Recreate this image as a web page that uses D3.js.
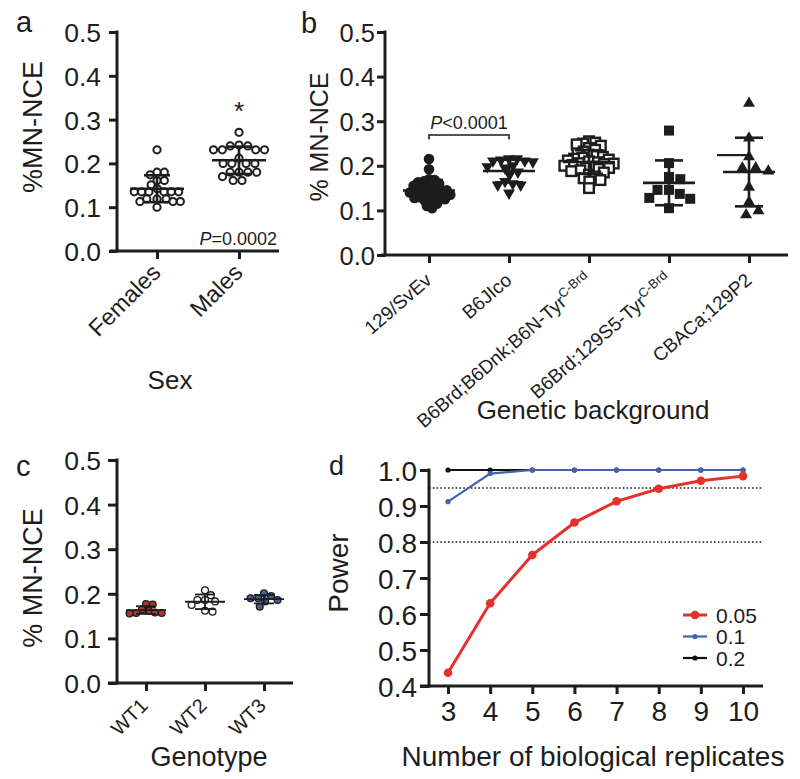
<!DOCTYPE html>
<html><head><meta charset="utf-8">
<script src="https://cdn.jsdelivr.net/npm/d3@7"></script>
<style>
body{margin:0;background:#fff}
text{font-family:"Liberation Sans",Arial,Helvetica,sans-serif;fill:#1e1c1d}
</style>
</head><body>
<svg id="fig" width="800" height="779"></svg>
<script>
// ---------------- DATA ----------------
// Panel a
const sexCategories = ["Females", "Males"];
const femalesMN = [0.231, 0.180, 0.180, 0.174, 0.161, 0.161, 0.151, 0.142, 0.135, 0.135, 0.135, 0.135, 0.135, 0.135, 0.119, 0.119, 0.119, 0.113, 0.113, 0.113, 0.100];
const malesMN = [0.271, 0.242, 0.240, 0.240, 0.231, 0.231, 0.231, 0.231, 0.212, 0.200, 0.200, 0.200, 0.200, 0.180, 0.180, 0.180, 0.180, 0.170, 0.161, 0.161];
const mnTicks = [0, 0.1, 0.2, 0.3, 0.4, 0.5];
const sexPText = "=0.0002";

// Panel b
const bgCategories = ["129/SvEv", "B6JIco", "B6Brd;B6Dnk;B6N-Tyr", "B6Brd;129S5-Tyr", "CBACa;129P2"];
const bgSuperscripts = ["", "", "C-Brd", "C-Brd", ""];
const sv129MN = [0.215, 0.192, 0.170, 0.168, 0.165, 0.163, 0.160, 0.158, 0.155, 0.152, 0.150, 0.148, 0.146, 0.145, 0.143, 0.142, 0.140, 0.138, 0.136, 0.135, 0.133, 0.131, 0.130, 0.128, 0.125, 0.122, 0.118, 0.115, 0.110, 0.105];
const b6jicoMN = [0.216, 0.216, 0.213, 0.211, 0.211, 0.209, 0.200, 0.198, 0.195, 0.186, 0.180, 0.165, 0.160, 0.157, 0.157, 0.139];
const b6dnkMN = [0.255, 0.252, 0.250, 0.248, 0.245, 0.240, 0.236, 0.232, 0.228, 0.225, 0.222, 0.220, 0.218, 0.216, 0.214, 0.212, 0.210, 0.208, 0.206, 0.205, 0.204, 0.202, 0.200, 0.198, 0.196, 0.195, 0.193, 0.190, 0.188, 0.185, 0.180, 0.176, 0.172, 0.168, 0.165, 0.150];
const b6129s5MN = [0.279, 0.206, 0.175, 0.170, 0.146, 0.146, 0.137, 0.128, 0.126, 0.105];
const cbaMN = [0.340, 0.262, 0.220, 0.195, 0.195, 0.188, 0.152, 0.119, 0.090, 0.099];
const cbaExtraLine = 0.224;
const bgPText = "<0.0001";

// Panel c
const genoCategories = ["WT1", "WT2", "WT3"];
const wt1MN = [0.177, 0.176, 0.165, 0.162, 0.158, 0.157, 0.157, 0.156];
const wt2MN = [0.208, 0.197, 0.186, 0.183, 0.186, 0.175, 0.160, 0.162];
const wt3MN = [0.201, 0.195, 0.190, 0.190, 0.186, 0.183, 0.171];
const genoColors = ["#a8392b", "#ffffff", "#40619e"];

// Panel d
const replicates = [3, 4, 5, 6, 7, 8, 9, 10];
const power005 = [0.437, 0.630, 0.764, 0.854, 0.913, 0.948, 0.970, 0.983];
const power01 = [0.912, 0.990, 1, 1, 1, 1, 1, 1];
const power02 = [1, 1, 1, 1, 1, 1, 1, 1];
const powerSeriesNames = ["0.05", "0.1", "0.2"];
const powerColors = ["#e5312b", "#4164ad", "#111111"];
const powerThresholds = [0.95, 0.8];
const powerTicks = [0.4, 0.5, 0.6, 0.7, 0.8, 0.9, 1.0];

// ---------------- HELPERS ----------------
const svg = d3.select("#fig");
const INK = "#1e1c1d";

function beeswarm(vals, yS, d) {
  const pts = vals.map(v => ({v, y: yS(v)})).sort((a, b) => a.y - b.y);
  const placed = [];
  for (const p of pts) {
    const near = placed.filter(q => Math.abs(q.y - p.y) < d);
    const cands = [0];
    near.forEach(q => { const h = Math.sqrt(d * d - (q.y - p.y) ** 2); cands.push(q.dx + h, q.dx - h); });
    cands.sort((a, b) => Math.abs(a) - Math.abs(b) || b - a);
    let chosen = cands[0];
    for (const c of cands) {
      if (near.every(q => (q.dx - c) ** 2 + (q.y - p.y) ** 2 >= d * d - 1e-6)) { chosen = c; break; }
    }
    p.dx = chosen; placed.push(p);
  }
  return placed;
}
function swarm(vals, yS, cx, d0, maxHalf) {
  let d = d0, res;
  for (let i = 0; i < 40; i++) {
    res = beeswarm(vals, yS, d);
    if (d3.max(res, p => Math.abs(p.dx)) <= maxHalf + 0.01) break;
    d *= 0.94;
  }
  return res.map(p => ({v: p.v, x: cx + p.dx, y: p.y}));
}

function yAxis(g, y, x0, ticks, fmt, fs, tickLen, pad) {
  const ax = d3.axisLeft(y).tickValues(ticks).tickFormat(d3.format(fmt)).tickSize(tickLen).tickPadding(pad);
  const gg = g.append("g").attr("transform", `translate(${x0},0)`).call(ax);
  gg.select(".domain").remove();
  gg.selectAll(".tick line").attr("stroke", INK).attr("stroke-width", 3);
  gg.selectAll(".tick text").attr("font-size", fs).attr("fill", INK).attr("dy", "0.36em");
  g.append("line").attr("x1", x0).attr("x2", x0)
    .attr("y1", y(ticks[ticks.length - 1]) - 1.5).attr("y2", y(ticks[0]) + 1.5)
    .attr("stroke", INK).attr("stroke-width", 3);
}
function xAxis(g, x, y0, xStart, xEnd, tickLen) {
  const ax = d3.axisBottom(x).tickSize(tickLen).tickFormat("");
  const gg = g.append("g").attr("transform", `translate(0,${y0})`).call(ax);
  gg.select(".domain").remove();
  gg.selectAll(".tick line").attr("stroke", INK).attr("stroke-width", 3);
  g.append("line").attr("x1", xStart).attr("x2", xEnd).attr("y1", y0).attr("y2", y0)
    .attr("stroke", INK).attr("stroke-width", 3);
  return gg;
}
function errBar(g, vals, cx, y, meanW, capW, sw) {
  const m = d3.mean(vals), s = d3.deviation(vals);
  const st = l => l.attr("stroke", INK).attr("stroke-width", sw);
  st(g.append("line").attr("x1", cx).attr("x2", cx).attr("y1", y(m + s)).attr("y2", y(m - s)));
  [m + s, m - s].forEach(v => st(g.append("line").attr("x1", cx - capW / 2).attr("x2", cx + capW / 2).attr("y1", y(v)).attr("y2", y(v))));
  st(g.append("line").attr("x1", cx - meanW / 2).attr("x2", cx + meanW / 2).attr("y1", y(m)).attr("y2", y(m)));
}
function rotLabel(g, x, y, angle, txt, sup, fs) {
  const t = g.append("text").attr("transform", `translate(${x},${y}) rotate(${angle})`)
    .attr("text-anchor", "end").attr("font-size", fs);
  t.append("tspan").text(txt);
  if (sup) t.append("tspan").attr("font-size", fs * 0.68).attr("dy", -fs * 0.38).text(sup);
  return t;
}
function yTitle(g, x, y, txt, fs) {
  g.append("text").attr("transform", `translate(${x},${y}) rotate(-90)`).attr("text-anchor", "middle")
    .attr("font-size", fs).text(txt);
}

// ---------------- PANEL a ----------------
{
  const g = svg.append("g");
  const y = d3.scaleLinear().domain([0, 0.5]).range([251, 32]);
  const x = d3.scalePoint().domain(sexCategories).range([157, 239]);
  const groups = [femalesMN, malesMN];
  groups.forEach((vals, i) => {
    const pts = swarm(vals, y, x(sexCategories[i]), 10, 26);
    g.selectAll(null).data(pts).join("circle").attr("cx", p => p.x).attr("cy", p => p.y).attr("r", 3.6)
      .attr("fill", "#fff").attr("stroke", INK).attr("stroke-width", 2);
  });
  groups.forEach((vals, i) => errBar(g, vals, x(sexCategories[i]), y, 54, 26, 2.6));
  yAxis(g, y, 117, mnTicks, ".1f", 26.5, 8, 8);
  xAxis(g, x, 251, 110, 279, 8);
  sexCategories.forEach(c => rotLabel(g, x(c) + 5, 274, -45, c, "", 23.5));
  g.append("text").attr("x", 170).attr("y", 389).attr("text-anchor", "middle").attr("font-size", 26).text("Sex");
  yTitle(g, 42, 127, "%MN-NCE", 27);
  g.append("text").attr("x", 239).attr("y", 120).attr("text-anchor", "middle").attr("font-size", 26).text("*");
  const pt = g.append("text").attr("x", 277).attr("y", 245).attr("text-anchor", "end").attr("font-size", 18);
  pt.append("tspan").attr("font-style", "italic").text("P");
  pt.append("tspan").text(sexPText);
  g.append("text").attr("x", 16).attr("y", 32).attr("font-size", 29).text("a");
}

// ---------------- PANEL b ----------------
{
  const g = svg.append("g");
  const y = d3.scaleLinear().domain([0, 0.5]).range([255, 32]);
  const x = d3.scalePoint().domain(bgCategories).range([429, 749]);
  const groups = [sv129MN, b6jicoMN, b6dnkMN, b6129s5MN, cbaMN];
  const tri = d3.symbol().type(d3.symbolTriangle).size(62)();
  const markers = [
    (sel) => sel.append("circle").attr("r", 5.3).attr("fill", INK),
    (sel) => sel.append("path").attr("d", tri).attr("transform", "rotate(180)").attr("fill", INK),
    (sel) => sel.append("rect").attr("x", -4.8).attr("y", -4.8).attr("width", 9.6).attr("height", 9.6)
      .attr("fill", "#fff").attr("stroke", INK).attr("stroke-width", 2.4),
    (sel) => sel.append("rect").attr("x", -5).attr("y", -5).attr("width", 10).attr("height", 10).attr("fill", INK),
    (sel) => sel.append("path").attr("d", tri).attr("fill", INK)
  ];
  const dGap = [10, 11, 10.5, 11.5, 13];
  groups.forEach((vals, i) => {
    const pts = swarm(vals, y, x(bgCategories[i]), dGap[i], 25);
    const mk = g.selectAll(null).data(pts).join("g").attr("transform", p => `translate(${p.x},${p.y})`);
    markers[i](mk);
  });
  groups.forEach((vals, i) => errBar(g, vals, x(bgCategories[i]), y, 52, 28, 2.6));
  // stray mean-like line drawn in the CBA group
  g.append("line").attr("x1", x(bgCategories[4]) - 32).attr("x2", x(bgCategories[4])).attr("y1", y(cbaExtraLine)).attr("y2", y(cbaExtraLine))
    .attr("stroke", INK).attr("stroke-width", 2.2);
  yAxis(g, y, 385, mnTicks, ".1f", 25.5, 8, 2);
  xAxis(g, x, 255, 381, 788, 8);
  bgCategories.forEach((c, i) => rotLabel(g, x(c) + 4, 282, -41, c, bgSuperscripts[i], 19));
  g.append("text").attr("x", 593).attr("y", 419).attr("text-anchor", "middle").attr("font-size", 26).text("Genetic background");
  yTitle(g, 328, 137, "% MN-NCE", 25);
  // significance bracket
  const xa = x(bgCategories[0]), xb = x(bgCategories[1]);
  g.append("path").attr("d", `M${xa},139.5V135H${xb}V139.5`).attr("fill", "none").attr("stroke", INK).attr("stroke-width", 1.6);
  const pt = g.append("text").attr("x", (xa + xb) / 2).attr("y", 129).attr("text-anchor", "middle").attr("font-size", 18);
  pt.append("tspan").attr("font-style", "italic").text("P");
  pt.append("tspan").text(bgPText);
  g.append("text").attr("x", 301).attr("y", 33).attr("font-size", 29).text("b");
}

// ---------------- PANEL c ----------------
{
  const g = svg.append("g");
  const y = d3.scaleLinear().domain([0, 0.5]).range([683, 460]);
  const x = d3.scalePoint().domain(genoCategories).range([146, 264]);
  const groups = [wt1MN, wt2MN, wt3MN];
  groups.forEach((vals, i) => {
    const pts = swarm(vals, y, x(genoCategories[i]), 7.6, 17);
    g.selectAll(null).data(pts).join("circle").attr("cx", p => p.x).attr("cy", p => p.y).attr("r", 3.4)
      .attr("fill", genoColors[i]).attr("stroke", INK).attr("stroke-width", 1.3);
  });
  groups.forEach((vals, i) => errBar(g, vals, x(genoCategories[i]), y, 40, 20, 1.8));
  yAxis(g, y, 117, mnTicks, ".1f", 26.5, 9, 7);
  xAxis(g, x, 683, 108, 293, 8);
  genoCategories.forEach(c => rotLabel(g, x(c) + 3, 707, -45, c, "", 20));
  g.append("text").attr("x", 209).attr("y", 766).attr("text-anchor", "middle").attr("font-size", 27).text("Genotype");
  yTitle(g, 42, 578, "% MN-NCE", 27);
  g.append("text").attr("x", 16).attr("y", 476).attr("font-size", 29).text("c");
}

// ---------------- PANEL d ----------------
{
  const g = svg.append("g");
  const y = d3.scaleLinear().domain([0.4, 1.0]).range([686, 470]);
  const x = d3.scaleLinear().domain([3, 10]).range([448, 743]);
  powerThresholds.forEach(t => g.append("line").attr("x1", 429).attr("x2", 763).attr("y1", y(t)).attr("y2", y(t))
    .attr("stroke", INK).attr("stroke-width", 1.5).attr("stroke-dasharray", "1.6,2.2"));
  const series = [power02, power01, power005];
  const colors = [powerColors[2], powerColors[1], powerColors[0]];
  const widths = [2.2, 2.2, 3];
  const radii = [2.6, 2.6, 4.3];
  const line = d3.line().x((d, i) => x(replicates[i])).y(d => y(d));
  series.forEach((s, k) => {
    g.append("path").attr("d", line(s)).attr("fill", "none").attr("stroke", colors[k]).attr("stroke-width", widths[k]);
    g.selectAll(null).data(s).join("circle").attr("cx", (d, i) => x(replicates[i])).attr("cy", d => y(d))
      .attr("r", radii[k]).attr("fill", colors[k]);
  });
  const ya = d3.axisLeft(y).tickValues(powerTicks).tickFormat(d3.format(".1f")).tickSize(9).tickPadding(3);
  const gy = g.append("g").attr("transform", "translate(429,0)").call(ya);
  gy.select(".domain").remove();
  gy.selectAll(".tick line").attr("stroke", INK).attr("stroke-width", 3);
  gy.selectAll(".tick text").attr("font-size", 28).attr("fill", INK).attr("dy", "0.36em");
  g.append("line").attr("x1", 429).attr("x2", 429).attr("y1", y(1.0) - 1.5).attr("y2", 687.5).attr("stroke", INK).attr("stroke-width", 3);
  const xa = d3.axisBottom(x).tickValues(replicates).tickFormat(d3.format("d")).tickSize(8).tickPadding(6);
  const gx = g.append("g").attr("transform", "translate(0,686)").call(xa);
  gx.select(".domain").remove();
  gx.selectAll(".tick line").attr("stroke", INK).attr("stroke-width", 3);
  gx.selectAll(".tick text").attr("font-size", 28).attr("fill", INK).attr("dy", "0.76em");
  g.append("line").attr("x1", 420).attr("x2", 763).attr("y1", 686).attr("y2", 686).attr("stroke", INK).attr("stroke-width", 3);
  // legend
  const lg = [{n: powerSeriesNames[0], c: powerColors[0], w: 3, r: 4.3},
              {n: powerSeriesNames[1], c: powerColors[1], w: 2.2, r: 2.6},
              {n: powerSeriesNames[2], c: powerColors[2], w: 2.2, r: 2.6}];
  lg.forEach((e, i) => {
    const yy = 615 + i * 21.5;
    g.append("line").attr("x1", 683).attr("x2", 707).attr("y1", yy).attr("y2", yy).attr("stroke", e.c).attr("stroke-width", e.w);
    g.append("circle").attr("cx", 695).attr("cy", yy).attr("r", e.r).attr("fill", e.c);
    g.append("text").attr("x", 716).attr("y", yy + 7.5).attr("font-size", 21).text(e.n);
  });
  g.append("text").attr("x", 593).attr("y", 766).attr("text-anchor", "middle").attr("font-size", 28).text("Number of biological replicates");
  yTitle(g, 348, 573, "Power", 28);
  g.append("text").attr("x", 329).attr("y", 475).attr("font-size", 27).text("d");
}
</script>
</body></html>
